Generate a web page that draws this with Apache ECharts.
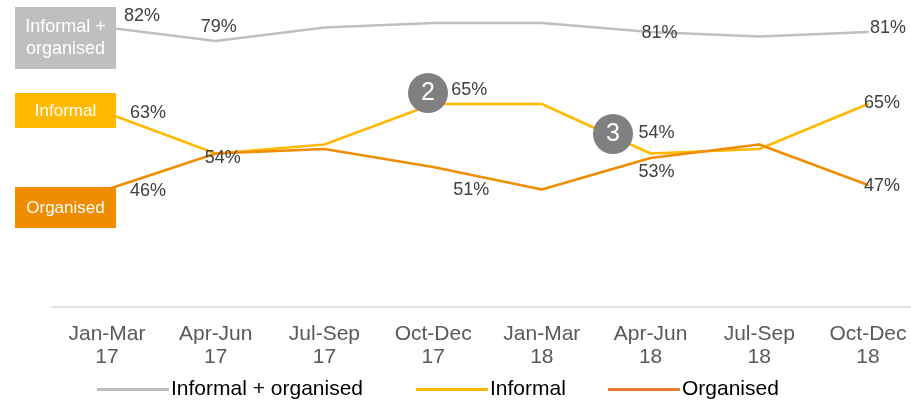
<!DOCTYPE html>
<html>
<head>
<meta charset="utf-8">
<script src="https://cdn.jsdelivr.net/npm/echarts@6/dist/echarts.min.js"></script>
<style>html,body{margin:0;padding:0;background:#fff}#c{width:911px;height:402px}</style>
</head>
<body>
<div id="c"></div>
<script>
var categories = ['Jan-Mar 17','Apr-Jun 17','Jul-Sep 17','Oct-Dec 17','Jan-Mar 18','Apr-Jun 18','Jul-Sep 18','Oct-Dec 18'];
var totalValues = [82, 79, 82, 83, 83, 81, 80, 81];
var informalValues = [63, 54, 56, 65, 65, 54, 55, 65];
var organisedValues = [46, 54, 55, 51, 46, 53, 56, 47];
// which points carry a value label, with their label offsets
var totalLabels = {0:[35,-11],1:[3,-14],5:[9,1],7:[20,-4]};
var informalLabels = {0:[41,0],3:[36,-14],5:[6,-20],7:[14,-1]};
var organisedLabels = {0:[41,2],1:[7,5],3:[38,23],5:[6,14],7:[14,1]};
var badges = [{text:'2', x:428, y:93}, {text:'3', x:613, y:134}];
var seriesNames = ['Informal + organised', 'Informal', 'Organised'];

var FONT = 'Arial, "Liberation Sans", sans-serif';
var cGrey = '#BFBFBF', cYellow = '#FFB900', cOrange = '#EF8C00';

function build(values, labels) {
  return values.map(function (v, i) {
    var off = labels[i];
    return {
      value: v,
      label: off ? {show: true, position: 'inside', offset: off, formatter: v + '%',
        color: '#404040', fontSize: 18, fontFamily: FONT} : {show: false}
    };
  });
}
function series(name, values, labels, color) {
  return {
    name: name, type: 'line', data: build(values, labels),
    symbol: 'circle', symbolSize: 2, showSymbol: true,
    itemStyle: {color: color}, lineStyle: {color: color, width: 2.5},
    emphasis: {disabled: true}, z: 3, animation: false
  };
}
function legend(left, item) {
  return {
    left: left, top: 379, padding: 0, itemWidth: 72, itemHeight: 3, icon: 'rect', selectedMode: false,
    textStyle: {fontSize: 21, color: '#000', fontFamily: FONT, padding: [0, 0, 0, -3]},
    data: [item]
  };
}

var chart = echarts.init(document.getElementById('c'));
var s3 = series(seriesNames[2], organisedValues, organisedLabels, cOrange);
s3.markPoint = {
  symbol: 'circle', symbolSize: 40, silent: true, animation: false,
  itemStyle: {color: '#808080'},
  label: {show: true, color: '#fff', fontSize: 25, fontFamily: FONT, formatter: '{b}'},
  data: badges.map(function (b) { return {name: b.text, x: b.x, y: b.y}; })
};
chart.setOption({
  backgroundColor: '#fff',
  animation: false,
  grid: [
    {left: 107, right: 43, top: 14, bottom: 95.5},
    {left: 52, right: 0, top: 14, bottom: 95.5}
  ],
  xAxis: [
    {type: 'category', data: categories, boundaryGap: false, gridIndex: 0,
     axisLine: {show: false}, axisTick: {show: false}, splitLine: {show: false},
     axisLabel: {margin: 16, fontSize: 21, color: '#595959', fontFamily: FONT, lineHeight: 23,
       interval: 0, formatter: function (v) { return v.replace(' ', '\n'); }}},
    {type: 'value', gridIndex: 1, min: 0, max: 1,
     axisLine: {show: true, lineStyle: {color: '#D9D9D9', width: 1.5}},
     axisTick: {show: false}, axisLabel: {show: false}, splitLine: {show: false}}
  ],
  yAxis: [
    {type: 'value', min: 20, max: 85, gridIndex: 0, show: false},
    {type: 'value', min: 0, max: 1, gridIndex: 1, show: false}
  ],
  legend: [
    legend(97, {name: seriesNames[0]}),
    legend(416, {name: seriesNames[1]}),
    legend(608, {name: seriesNames[2], itemStyle: {color: '#ED7D31'}})
  ],
  series: [
    series(seriesNames[0], totalValues, totalLabels, cGrey),
    series(seriesNames[1], informalValues, informalLabels, cYellow),
    s3
  ],
  graphic: [
    {type: 'rect', z: 100, left: 15, top: 7, shape: {width: 101, height: 62}, style: {fill: '#BFBFBF'}},
    {type: 'text', z: 101, x: 65.5, y: 38, style: {text: 'Informal +\norganised', fill: '#fff', fontSize: 18,
      fontFamily: FONT, align: 'center', verticalAlign: 'middle', lineHeight: 22}},
    {type: 'rect', z: 100, left: 15, top: 93, shape: {width: 101, height: 35}, style: {fill: '#FFB900'}},
    {type: 'text', z: 101, x: 65.5, y: 111, style: {text: 'Informal', fill: '#fff', fontSize: 17,
      fontFamily: FONT, align: 'center', verticalAlign: 'middle'}},
    {type: 'rect', z: 100, left: 15, top: 187, shape: {width: 101, height: 41}, style: {fill: '#F08C00'}},
    {type: 'text', z: 101, x: 65.5, y: 208, style: {text: 'Organised', fill: '#fff', fontSize: 17,
      fontFamily: FONT, align: 'center', verticalAlign: 'middle'}}
  ]
});
</script>
</body>
</html>
